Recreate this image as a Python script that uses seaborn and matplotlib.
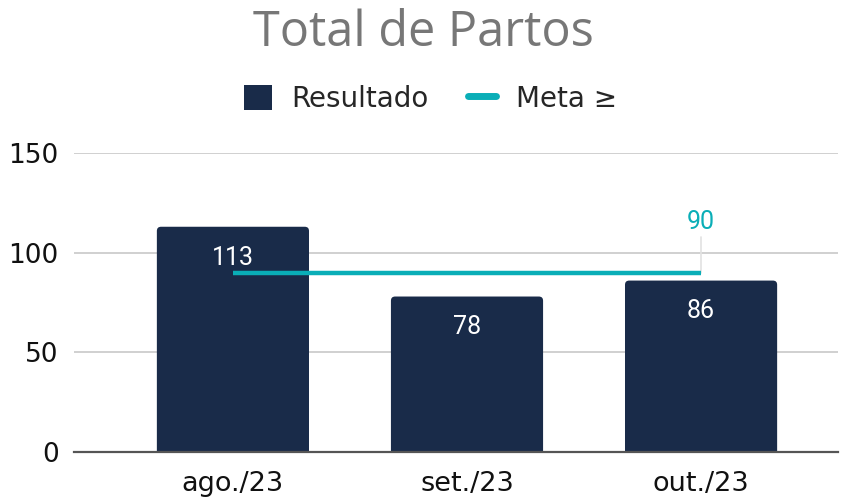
import pandas as pd
import seaborn as sns
import matplotlib.pyplot as plt
from matplotlib.patches import FancyBboxPatch, Patch
from matplotlib.lines import Line2D

# dados do gráfico
meses = ["ago./23", "set./23", "out./23"]
resultado = [113, 78, 86]
meta = [90, 90, 90]

cor_barra = "#192b49"
cor_meta = "#0aaeb7"

df = pd.DataFrame({"Mes": meses, "Resultado": resultado, "Meta": meta})

sns.set_theme(style="white")
plt.rcParams["font.family"] = ["DejaVu Sans"]

fig = plt.figure(figsize=(8.47, 5), dpi=100)
ax = fig.add_axes([74 / 847, 48 / 500, (838 - 74) / 847, 299 / 500])

sns.barplot(data=df, x="Mes", y="Resultado", color=cor_barra, width=0.65,
            saturation=1, ax=ax, zorder=2)
ax.set_xlim(-0.679, 2.585)
ax.set_ylim(0, 150)

# cantos arredondados nas barras
for p in list(ax.patches):
    x, w, h = p.get_x(), p.get_width(), p.get_height()
    nova = FancyBboxPatch((x, -6), w, h + 6,
                          boxstyle="round,pad=0,rounding_size=0.018",
                          mutation_aspect=117, facecolor=cor_barra,
                          edgecolor="none", zorder=2)
    p.remove()
    ax.add_patch(nova)

# linha da meta
ax.plot([0, 2], [meta[0], meta[-1]], color=cor_meta, lw=3.2, zorder=4,
        solid_capstyle="butt")
ax.plot([2, 2], [meta[-1], meta[-1] + 18], color="#e2e2e2", lw=1.2, zorder=3)
ax.text(2, meta[-1] + 25.5, str(meta[-1]), color=cor_meta, fontsize=18,
        ha="center", va="center", family="Roboto", zorder=5)

# rótulos dentro das barras
for i, v in enumerate(resultado):
    ax.text(i, v - 15.5, str(v), color="white", fontsize=18, ha="center",
            va="center", family="Roboto", zorder=5)

ax.set_yticks([0, 50, 100, 150])
ax.grid(axis="y", color="#d0d0d0", lw=1.4, zorder=0)
ax.set_axisbelow(True)
for s in ["top", "right", "left"]:
    ax.spines[s].set_visible(False)
ax.spines["bottom"].set_color("#555555")
ax.spines["bottom"].set_linewidth(1.6)
ax.spines["bottom"].set_zorder(6)
ax.tick_params(axis="y", length=0, pad=11, labelsize=19, labelcolor="#111111")
ax.tick_params(axis="x", length=0, pad=14, labelsize=19.5, labelcolor="#111111")
ax.set_xlabel("")
ax.set_ylabel("")

fig.text(0.5, 0.934, "Total de Partos", ha="center", va="center",
         fontsize=35, color="#777777", family="Open Sans")

handles = [Patch(facecolor=cor_barra, edgecolor="none", label="Resultado"),
           Line2D([0], [0], color=cor_meta, lw=5, label="Meta ≥")]
fig.legend(handles=handles, loc="center", bbox_to_anchor=(0.508, 0.802), ncol=2,
           frameon=False, fontsize=20, handlelength=1.0, handleheight=1.0,
           columnspacing=1.4, handletextpad=0.72)

plt.savefig("out.png", dpi=100)
